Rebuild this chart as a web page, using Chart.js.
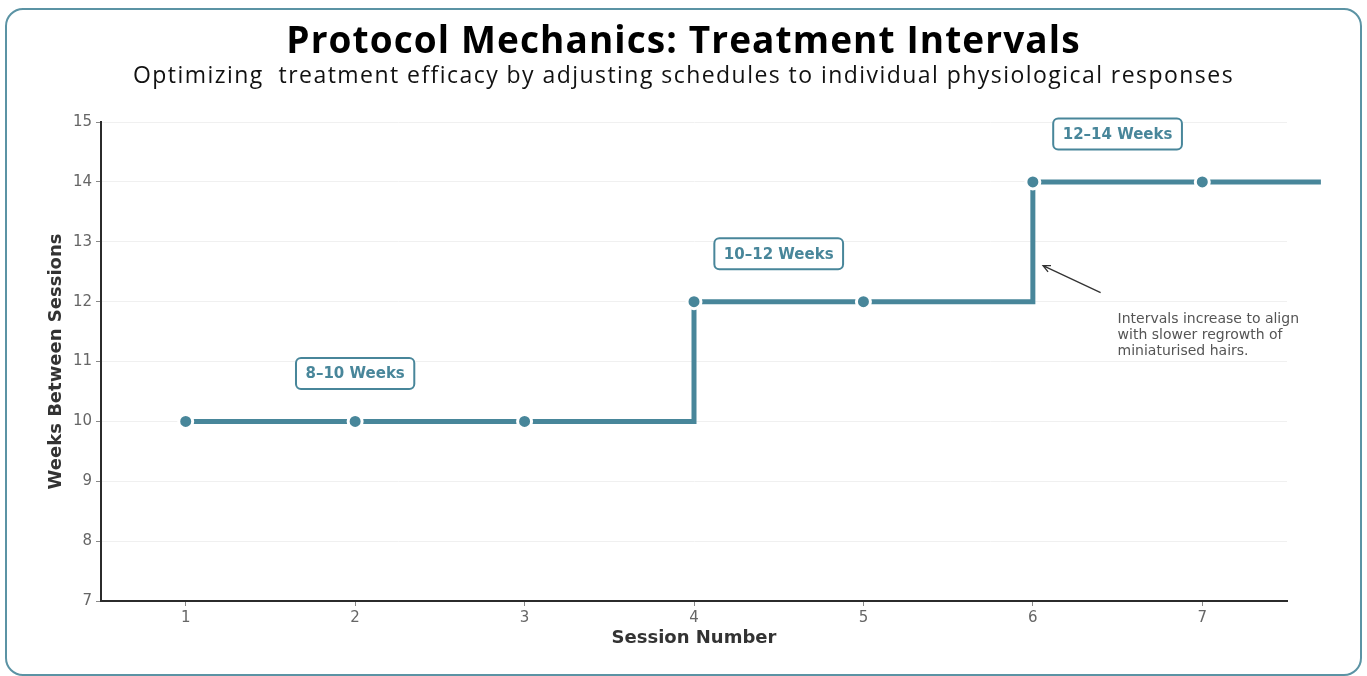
<!DOCTYPE html>
<html>
<head>
<meta charset="utf-8">
<script src="https://cdn.jsdelivr.net/npm/chart.js@4.4.1/dist/chart.umd.min.js"></script>
<style>
  html, body { margin: 0; padding: 0; background: #ffffff; }
  #wrap { position: relative; width: 1367px; height: 676px; overflow: hidden; }
  #frame {
    position: absolute; left: 5px; top: 8px; width: 1353px; height: 664px;
    border: 2px solid #5b93a4; border-radius: 18px; pointer-events: none;
  }
  #title {
    position: absolute; left: 0; width: 1367px; top: 14px; text-align: center;
    font-family: "Open Sans", sans-serif; font-weight: 700; font-size: 37px;
    color: #000; line-height: 50px; letter-spacing: 1.1px;
  }
  #subtitle {
    position: absolute; left: 0; width: 1367px; top: 58px; text-align: center;
    font-family: "Open Sans", sans-serif; font-weight: 400; font-size: 23px;
    color: #111; line-height: 32px; white-space: pre; letter-spacing: 1.45px;
  }
  canvas { position: absolute; left: 0; top: 0; }
</style>
</head>
<body>
<div id="wrap">
  <canvas id="chart" width="1367" height="676"></canvas>
  <div id="title">Protocol Mechanics: Treatment Intervals</div>
  <div id="subtitle">Optimizing  treatment efficacy by adjusting schedules to individual physiological responses</div>
  <div id="frame"></div>
</div>
<script>
// Session schedule: weeks between consecutive sessions
const sessions = [1, 2, 3, 4, 5, 6, 7];
const weeks = [10, 10, 10, 12, 12, 14, 14];
// the schedule line carries on past the last plotted session
const tailSession = 7.7;
const tailWeeks = 14;

// Range callouts for each phase
const rangeLabels = ['8–10 Weeks', '10–12 Weeks', '12–14 Weeks'];
const rangeAnchorSession = [2, 4.5, 6.5];
const rangeAnchorWeeks = [10.8, 12.8, 14.8];

// Note with arrow pointing at the last step
const noteLines = ['Intervals increase to align', 'with slower regrowth of', 'miniaturised hairs.'];
const noteAnchor = { session: 6.5, weeks: 11.43 };
const arrowFrom = { session: 6.4, weeks: 12.15 };
const arrowTo = { session: 6.06, weeks: 12.6 };

const TEAL = '#48869a';
const TICK_FONT = { family: 'DejaVu Sans', size: 15 };

const points = sessions.map((s, i) => ({ x: s, y: weeks[i] }));
points.push({ x: tailSession, y: tailWeeks });

const calloutPlugin = {
  id: 'callouts',
  afterDatasetsDraw(chart) {
    const { ctx, scales: { x, y } } = chart;
    ctx.save();

    // phase range boxes
    ctx.font = 'bold 15px "DejaVu Sans"';
    ctx.textAlign = 'center';
    ctx.textBaseline = 'middle';
    rangeLabels.forEach((txt, i) => {
      const cx = x.getPixelForValue(rangeAnchorSession[i]);
      const cy = y.getPixelForValue(rangeAnchorWeeks[i]);
      const w = ctx.measureText(txt).width + 19;
      const h = 31;
      ctx.beginPath();
      ctx.roundRect(cx - w / 2, cy - h / 2, w, h, 5);
      ctx.fillStyle = '#ffffff';
      ctx.fill();
      ctx.lineWidth = 2;
      ctx.strokeStyle = TEAL;
      ctx.stroke();
      ctx.fillStyle = TEAL;
      ctx.fillText(txt, cx, cy + 1);
    });

    // arrow
    const x0 = x.getPixelForValue(arrowFrom.session), y0 = y.getPixelForValue(arrowFrom.weeks);
    const x1 = x.getPixelForValue(arrowTo.session), y1 = y.getPixelForValue(arrowTo.weeks);
    ctx.strokeStyle = '#333333';
    ctx.lineWidth = 1.3;
    ctx.beginPath();
    ctx.moveTo(x0, y0);
    ctx.lineTo(x1, y1);
    const ang = Math.atan2(y1 - y0, x1 - x0);
    const hl = 8;
    ctx.moveTo(x1 - hl * Math.cos(ang - 0.45), y1 - hl * Math.sin(ang - 0.45));
    ctx.lineTo(x1, y1);
    ctx.lineTo(x1 - hl * Math.cos(ang + 0.45), y1 - hl * Math.sin(ang + 0.45));
    ctx.stroke();

    // note text
    ctx.font = '14px "DejaVu Sans"';
    ctx.fillStyle = '#555555';
    ctx.textAlign = 'left';
    ctx.textBaseline = 'middle';
    const nx = x.getPixelForValue(noteAnchor.session);
    const ny = y.getPixelForValue(noteAnchor.weeks);
    noteLines.forEach((ln, i) => ctx.fillText(ln, nx, ny + (i - 1) * 16));
    ctx.restore();
  }
};

new Chart(document.getElementById('chart'), {
  type: 'line',
  data: {
    datasets: [{
      data: points,
      stepped: 'before',
      borderColor: TEAL,
      borderWidth: 5,
      borderCapStyle: 'butt',
      borderJoinStyle: 'miter',
      backgroundColor: TEAL,
      pointBackgroundColor: TEAL,
      pointBorderColor: '#ffffff',
      pointBorderWidth: 3,
      pointRadius: points.map((p, i) => (i < sessions.length ? 7 : 0)),
      pointHoverRadius: 7,
      clip: false,
      fill: false
    }]
  },
  plugins: [calloutPlugin],
  options: {
    responsive: false,
    animation: false,
    events: [],
    layout: { padding: { left: 0, right: 80, top: 122, bottom: 0 } },
    plugins: { legend: { display: false }, tooltip: { enabled: false } },
    scales: {
      x: {
        type: 'linear',
        min: 0.5,
        max: 7.5,
        afterBuildTicks(scale) { scale.ticks = sessions.map(v => ({ value: v })); },
        afterFit(scale) { scale.height = 75; },
        grid: { drawOnChartArea: false, tickLength: 5, tickColor: '#888888', tickWidth: 1 },
        border: { color: '#2b2b2b', width: 2 },
        ticks: { color: '#666666', font: TICK_FONT, padding: 3, maxRotation: 0 },
        title: {
          display: true, text: 'Session Number', color: '#333333',
          font: { family: 'DejaVu Sans', size: 18, weight: 'bold' },
          padding: { top: 0, bottom: 27 }
        }
      },
      y: {
        min: 7,
        max: 15,
        afterFit(scale) { scale.width = 101; },
        grid: { color: '#f0f0f0', lineWidth: 1, tickLength: 5, tickColor: '#888888' },
        border: { color: '#2b2b2b', width: 2 },
        ticks: { stepSize: 1, color: '#666666', font: TICK_FONT, padding: 4 },
        title: {
          display: true, text: 'Weeks Between Sessions', color: '#333333',
          font: { family: 'DejaVu Sans', size: 18, weight: 'bold' },
          padding: { top: 46, bottom: 0 }
        }
      }
    }
  }
});
</script>
</body>
</html>
